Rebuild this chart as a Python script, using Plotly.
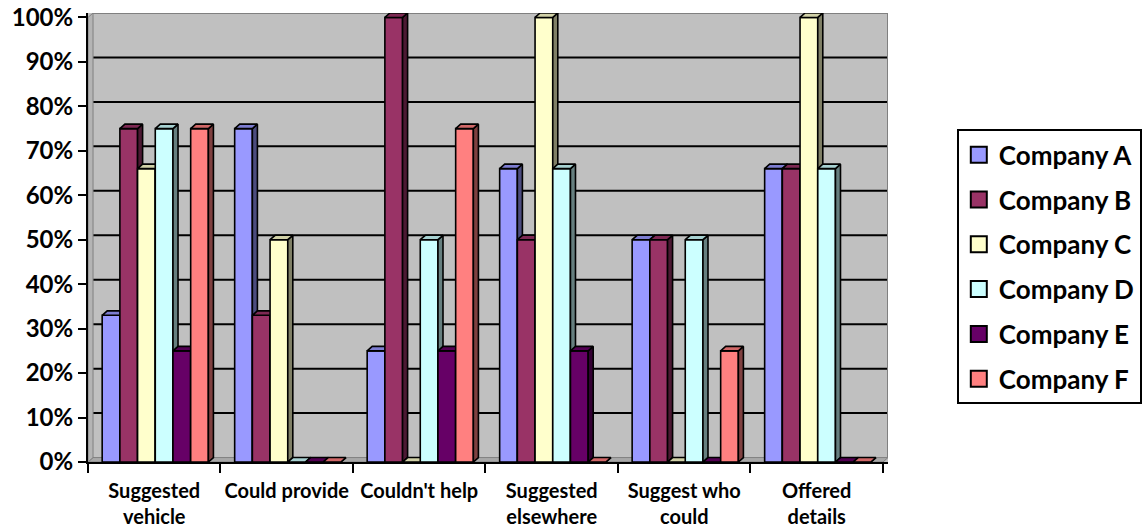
import plotly.graph_objects as go

# Survey responses per category (percent of enquiries)
categories = ["Suggested<br>vehicle", "Could provide", "Couldn't help",
              "Suggested<br>elsewhere", "Suggest who<br>could", "Offered<br>details"]
series_names = ["Company A", "Company B", "Company C", "Company D", "Company E", "Company F"]
company_a = [33, 75, 25, 66, 50, 66]
company_b = [75, 33, 100, 50, 50, 66]
company_c = [66, 50, 0, 100, 0, 100]
company_d = [75, 0, 50, 66, 50, 66]
company_e = [25, 0, 25, 25, 0, 0]
company_f = [75, 0, 75, 0, 25, 0]
series_values = [company_a, company_b, company_c, company_d, company_e, company_f]
y_ticks = list(range(0, 101, 10))

front_colors = ["#9999FF", "#993366", "#FFFFCC", "#CCFFFF", "#660066", "#FF8080"]


def shade(hex_color, k):
    h = hex_color.lstrip("#")
    r, g, b = (int(h[i:i + 2], 16) for i in (0, 2, 4))
    return "#%02x%02x%02x" % (int(r * k), int(g * k), int(b * k))


# pseudo-3D geometry (axis units)
BAR_W = 0.1336      # width of one bar front face
GROUP_PAD = 0.107   # gap between group boundary and first bar
DX = 0.038          # depth offset along x
DY = 1.0            # depth offset along y
X_MAX = 6 + DX
Y_MAX = 100 + DY

fig = go.Figure()

# floor and side wall
fig.add_trace(go.Scatter(x=[0, 6, 6 + DX, DX, 0], y=[0, 0, DY, DY, 0], mode="lines",
                         fill="toself", fillcolor="#a8a8a8", line=dict(color="#808080", width=1),
                         hoverinfo="skip", showlegend=False))
fig.add_trace(go.Scatter(x=[0, DX, DX, 0, 0], y=[0, DY, Y_MAX, 100, 0], mode="lines",
                         fill="toself", fillcolor="#b4b4b4", line=dict(color="#808080", width=1),
                         hoverinfo="skip", showlegend=False))

for j, (name, vals, col) in enumerate(zip(series_names, series_values, front_colors)):
    fx, fy, sx, sy, tx, ty = [], [], [], [], [], []
    for i, v in enumerate(vals):
        x0 = i + GROUP_PAD + j * BAR_W
        x1 = x0 + BAR_W
        fx += [x0, x1, x1, x0, x0, None]
        fy += [0, 0, v, v, 0, None]
        sx += [x1, x1 + DX, x1 + DX, x1, x1, None]
        sy += [0, DY, v + DY, v, 0, None]
        tx += [x0, x1, x1 + DX, x0 + DX, x0, None]
        ty += [v, v, v + DY, v + DY, v, None]
    for xs, ys, c in ((fx, fy, col), (sx, sy, shade(col, 0.5)), (tx, ty, shade(col, 0.82))):
        fig.add_trace(go.Scatter(x=xs, y=ys, mode="lines", fill="toself", fillcolor=c,
                                 line=dict(color="black", width=1.6), hoverinfo="skip",
                                 showlegend=False, cliponaxis=False))
    # legend swatch
    fig.add_trace(go.Scatter(x=[None], y=[None], mode="markers", name=name, legendgroup=name,
                             marker=dict(symbol="square", size=16, color=col,
                                         line=dict(color="black", width=2))))

# back-wall gridlines
shapes = []
for t in y_ticks[1:-1]:
    shapes.append(dict(type="line", xref="x", yref="y", x0=DX, x1=X_MAX, y0=t + DY, y1=t + DY,
                       line=dict(color="black", width=2), layer="below"))
shapes.append(dict(type="line", xref="x", yref="y", x0=DX, x1=X_MAX, y0=Y_MAX, y1=Y_MAX,
                   line=dict(color="#808080", width=2), layer="below"))
shapes.append(dict(type="line", xref="x", yref="y", x0=X_MAX, x1=X_MAX, y0=DY, y1=Y_MAX,
                   line=dict(color="#808080", width=2), layer="below"))

fig.update_layout(
    width=1145, height=527,
    margin=dict(l=88, r=257, t=13, b=65, autoexpand=False),
    paper_bgcolor="white", plot_bgcolor="#C0C0C0",
    font=dict(family="Lato", color="black"),
    shapes=shapes,
    showlegend=True,
    legend=dict(x=1.086, y=0.741, xanchor="left", yanchor="top",
                bgcolor="white", bordercolor="black", borderwidth=2,
                font=dict(family="Lato", size=26, color="black", weight="bold"),
                tracegroupgap=8, itemclick=False),
    xaxis=dict(range=[0, X_MAX], showgrid=False, zeroline=False, automargin=False,
               tickvals=[i + 0.5 for i in range(len(categories))], ticktext=categories,
               ticks="", ticklabelstandoff=10,
               tickfont=dict(family="Lato", size=20, color="black", weight="bold"),
               showline=True, linecolor="black", linewidth=2,
               minor=dict(tickvals=list(range(0, 7)), ticks="outside", ticklen=9,
                          tickwidth=2, tickcolor="black", showgrid=False)),
    yaxis=dict(range=[0, Y_MAX], showgrid=False, zeroline=False, automargin=False,
               tickvals=y_ticks, ticktext=[f"{t}%" for t in y_ticks],
               ticks="outside", ticklen=8, tickwidth=2, tickcolor="black",
               tickfont=dict(family="Lato", size=24, color="black", weight="bold"),
               showline=True, linecolor="black", linewidth=2),
)

fig.write_html("out.html")
